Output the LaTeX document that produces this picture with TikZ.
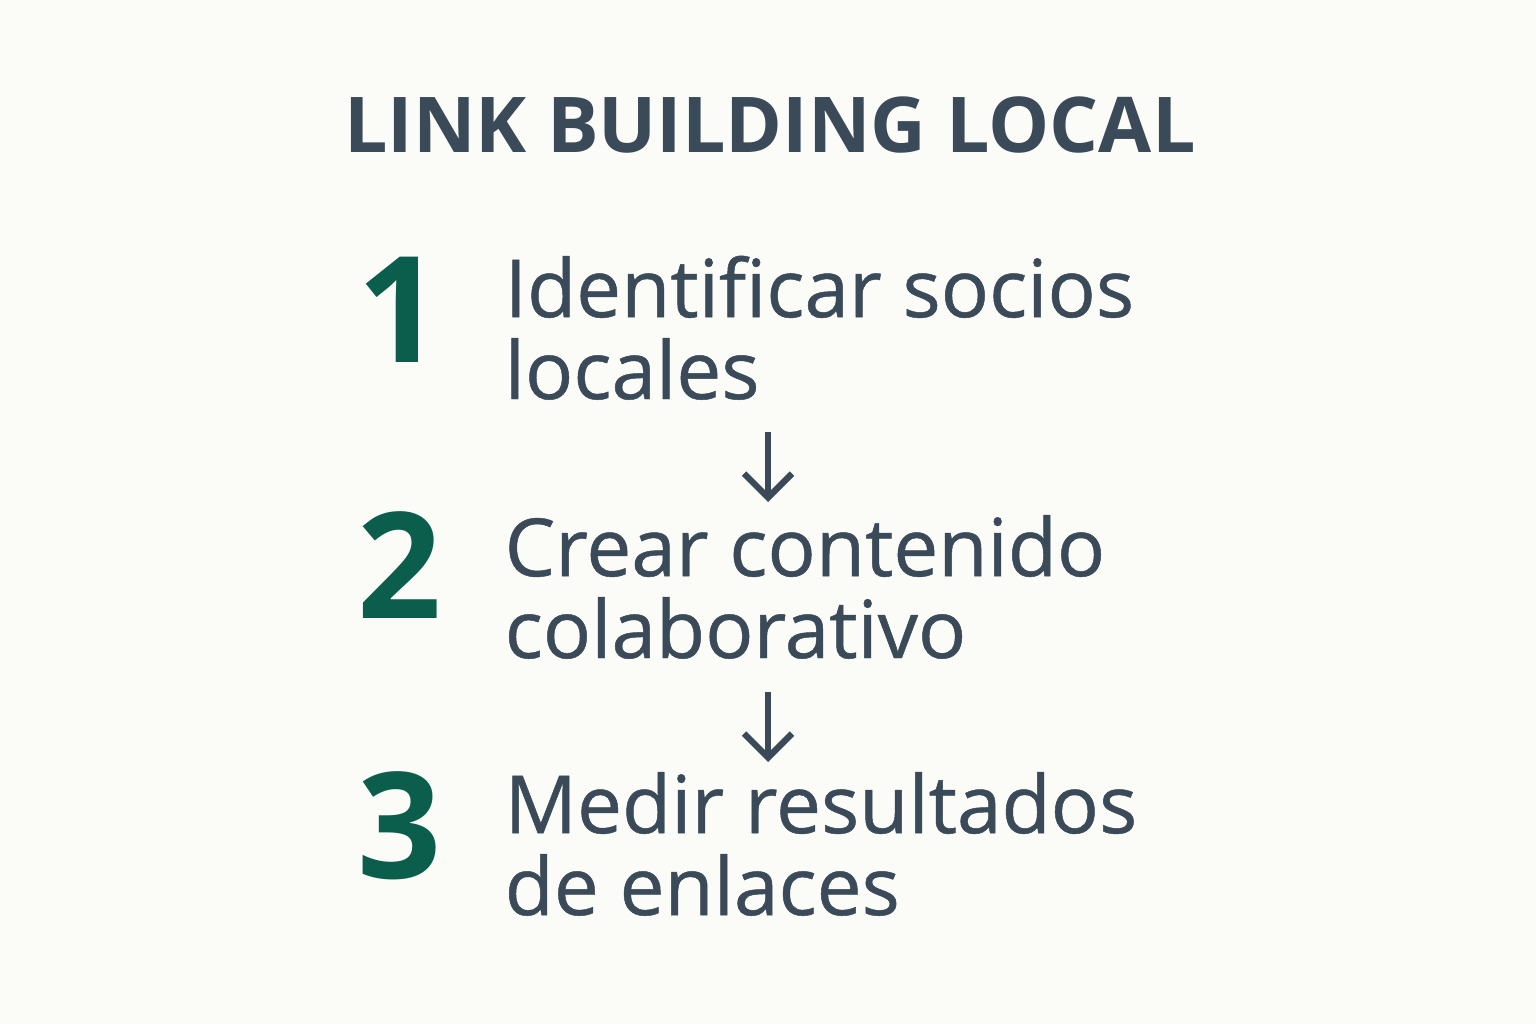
\documentclass[tikz,border=0pt]{standalone}
\usepackage{fontspec}
\setmainfont{Open Sans}
\newfontfamily\itemfont{Open Sans}[FakeBold=0.6]
\usepackage{tikz}
\usetikzlibrary{arrows.meta}
\definecolor{slate}{HTML}{3A4A58}
\definecolor{pine}{HTML}{0B5E4B}
\definecolor{paper}{HTML}{FBFBF8}

\begin{document}
\begin{tikzpicture}[num/.style={anchor=base,text=pine,font=\fontsize{42}{42}\selectfont\bfseries},
  item/.style={anchor=base west,text=slate,align=left,inner sep=0pt,font=\fontsize{22.8}{23.3}\itemfont},
  flow/.style={draw=slate,line width=1.8pt,-{Straight Barb[length=2.4mm,width=4.8mm,line width=1.8pt]}}]
\fill [paper] (0,0) rectangle (15.36,10.24);
%\draw [help lines] (0,0) grid (15,10);
\node (title) [anchor=base,text=slate,font=\fontsize{21.9}{21.9}\selectfont\bfseries] at (7.70,8.71) {LINK BUILDING LOCAL};
\node (n1) [num] at (4.00,6.62) {1}; \node (s1) [item] at (5.04,6.25) {Identificar socios\\locales};
\node (n2) [num] at (4.00,4.06) {2}; \node (s2) [item] at (5.04,3.66) {Crear contenido\\colaborativo};
\node (n3) [num] at (4.00,1.46) {3}; \node (s3) [item] at (5.04,1.09) {Medir resultados\\de enlaces};
\coordinate (a1) at (7.68,5.92); \coordinate (b1) at (7.68,5.22); \draw [flow] (a1) -- (b1);
\coordinate (a2) at (7.68,3.32); \coordinate (b2) at (7.68,2.62); \draw [flow] (a2) -- (b2);
\end{tikzpicture}
\end{document}
